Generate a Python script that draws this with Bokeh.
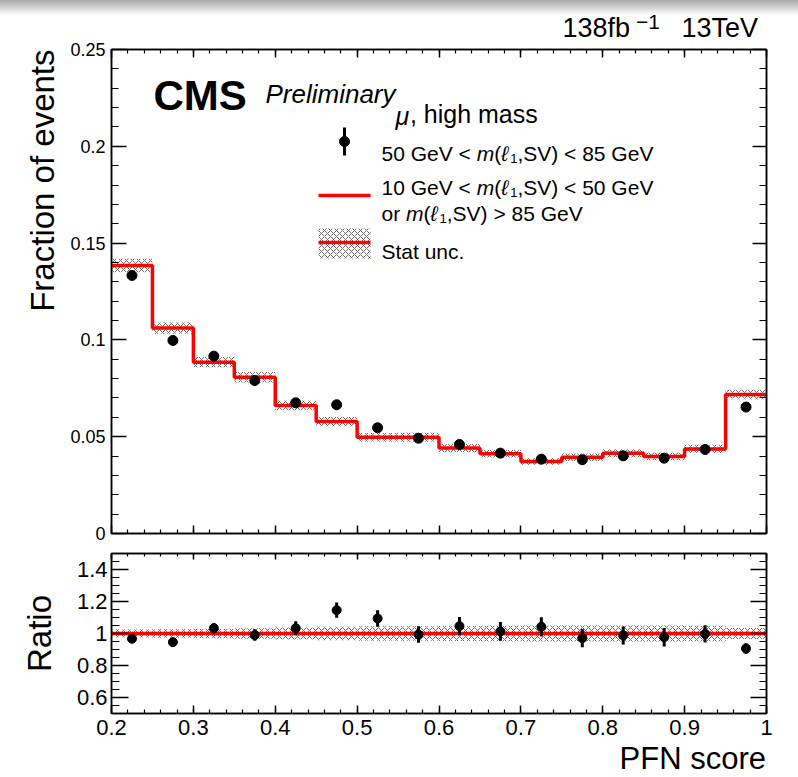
import numpy as np
from bokeh.plotting import figure
from bokeh.layouts import column
from bokeh.models import Label, LinearAxis, FixedTicker, Range1d, Title, Div
from bokeh.embed import file_html
from bokeh.resources import INLINE

# ---------------- data ----------------
bin_edges = [0.2, 0.25, 0.3, 0.35, 0.4, 0.45, 0.5, 0.55, 0.6, 0.65, 0.7, 0.75, 0.8, 0.85, 0.9, 0.95, 1.0]
bin_centers = [0.225, 0.275, 0.325, 0.375, 0.425, 0.475, 0.525, 0.575, 0.625, 0.675, 0.725, 0.775, 0.825, 0.875, 0.925, 0.975]
# 10 GeV < m < 50 GeV or m > 85 GeV (red histogram)
sideband_fraction = [0.1384, 0.1061, 0.0885, 0.0807, 0.0661, 0.0578, 0.0497, 0.0497,
                     0.0441, 0.0412, 0.0372, 0.0394, 0.0415, 0.0398, 0.0437, 0.0718]
sideband_rel_unc = [0.025, 0.027, 0.030, 0.033, 0.037, 0.042, 0.045, 0.046,
                    0.047, 0.048, 0.050, 0.050, 0.050, 0.050, 0.048, 0.035]
# 50 GeV < m < 85 GeV (black points)
signal_fraction = [0.1333, 0.0997, 0.0916, 0.0790, 0.0675, 0.0665, 0.0546, 0.0492,
                   0.0460, 0.0415, 0.0384, 0.0381, 0.0401, 0.0389, 0.0434, 0.0653]
ratio_values = [0.967, 0.946, 1.033, 0.990, 1.033, 1.146, 1.094, 0.994,
                1.046, 1.013, 1.042, 0.971, 0.988, 0.977, 0.998, 0.906]
ratio_errors = [0.025, 0.025, 0.033, 0.036, 0.044, 0.048, 0.052, 0.052,
                0.057, 0.059, 0.060, 0.057, 0.056, 0.058, 0.054, 0.033]

x_ticks = [0.2, 0.3, 0.4, 0.5, 0.6, 0.7, 0.8, 0.9, 1.0]
x_tick_labels = ["0.2", "0.3", "0.4", "0.5", "0.6", "0.7", "0.8", "0.9", "1"]
y_ticks = [0.0, 0.05, 0.1, 0.15, 0.2, 0.25]
y_tick_labels = ["0", "0.05", "0.1", "0.15", "0.2", "0.25"]
r_ticks = [0.6, 0.8, 1.0, 1.2, 1.4]
r_tick_labels = ["0.6", "0.8", "1", "1.2", "1.4"]

FONT = "Liberation Sans"

# ---------------- layout constants (px) ----------------
PAGE_W, PAGE_H = 798, 777
HEADER_H = 38
FL, FR = 111, 766          # frame left / right
MT, MB = 49, 533           # main frame top / bottom
RT, RB = 553, 713          # ratio frame top / bottom
FOOTER_TOP = 748
MAIN_BOTTOM_BORDER = 10
X0, X1 = 0.2, 1.0
Y0, Y1 = 0.0, 0.25
R0, R1 = 0.5, 1.5


def xd(px):
    return X0 + (px - FL) * (X1 - X0) / (FR - FL)


def yd_main(py):
    return Y0 + (MB - py) * (Y1 - Y0) / (MB - MT)


# Arial / Liberation Sans advance widths (em/1000)
W = {' ': 278, '.': 278, ',': 278, '<': 584, '>': 584, '(': 333, ')': 333, 'G': 778, 'e': 556,
     'V': 667, 'm': 833, 'l': 222, 'S': 667, 'o': 556, 'r': 333, 't': 278, 'a': 556, 'u': 556,
     'n': 556, 'c': 500, 'h': 556, 'i': 222, 'g': 556, 's': 500, 'b': 556, 'f': 278, 'T': 611,
     '\u03bc': 576, '\u2212': 584, '\u2113': 430}
for d in "0123456789":
    W[d] = 556


def text_width(s, size):
    return sum(W.get(ch, 556) for ch in s) * size / 1000.0


def add_label(fig, x, y, text, size, style="normal", align="left", baseline="alphabetic", angle=0):
    fig.add_layout(Label(x=x, y=y, text=text, text_font=FONT, text_font_size=f"{size}px",
                         text_font_style=style, text_align=align, text_baseline=baseline,
                         angle=angle, text_color="black"))


def rich(fig, px, py, pieces, xmap, ymap):
    """pieces: list of (text, size, style, dy_px); leading spaces are advanced, not drawn"""
    cur = px
    for text, size, style, dy in pieces:
        lead = len(text) - len(text.lstrip(" "))
        cur += text_width(" " * lead, size)
        body = text.strip(" ")
        add_label(fig, xmap(cur), ymap(py + dy), body, size, style)
        cur += text_width(text.lstrip(" "), size)


def mass_pieces(size):
    sub = round(size * 0.62)
    return [("m", size, "italic", 0), ("(", size, "normal", 0), ("\u2113", size, "italic", 0),
            ("1", sub, "normal", 5), (",SV)", size, "normal", 0)]


def style_axis(ax, major_in, minor_in, size, standoff, show=True):
    ax.major_tick_in = major_in
    ax.major_tick_out = 0
    ax.minor_tick_in = minor_in
    ax.minor_tick_out = 0
    ax.axis_line_color = "black"
    ax.axis_line_width = 1.5
    ax.major_tick_line_color = "black"
    ax.major_tick_line_width = 1.5
    ax.minor_tick_line_color = "black"
    ax.minor_tick_line_width = 1.2
    ax.major_label_text_font = FONT
    ax.major_label_text_color = "black"
    ax.major_label_standoff = standoff
    ax.major_label_text_font_size = f"{size}px" if show else "0px"


def span(text, size, baseline, left=None, right=None, line_h=None):
    """absolutely positioned HTML text whose alphabetic baseline sits at `baseline` px"""
    L = line_h if line_h is not None else size
    top = baseline - ((L - 1.117 * size) / 2 + 0.905 * size)
    pos = f"left:{left}px;" if left is not None else f"right:{right}px;"
    return (f'<span style="position:absolute;{pos}top:{top:.1f}px;font-family:\'{FONT}\';'
            f'font-size:{size}px;line-height:{L}px;color:black;white-space:nowrap;">{text}</span>')


x_minor = list(np.round(np.arange(0.2, 1.0001, 0.02), 3))
y_minor = list(np.round(np.arange(0.0, 0.2501, 0.01), 3))
r_minor = list(np.round(np.arange(0.5, 1.5001, 0.05), 3))

# ---------------- header (lumi text) ----------------
header_html = (
    f'<div style="position:relative;width:{PAGE_W}px;height:{HEADER_H}px;overflow:visible;'
    'background:linear-gradient(to bottom,#a8a8a8 0px,#cfcfcf 7px,#f4f4f4 13px,#ffffff 17px);">'
    + span("138fb", 27, 38, right=PAGE_W - 630, line_h=19)
    + span("\u22121", 21, 29, left=636, line_h=16)
    + span("13TeV", 27, 38, right=PAGE_W - 758, line_h=19)
    + '</div>'
)
header = Div(text=header_html, width=PAGE_W, height=HEADER_H, margin=(0, 0, 0, 0))

# ---------------- main figure ----------------
p = figure(frame_width=FR - FL, frame_height=MB - MT, x_range=Range1d(X0, X1), y_range=Range1d(Y0, Y1),
           output_backend="svg", toolbar_location=None, title=None,
           min_border_left=FL, min_border_right=PAGE_W - FR, min_border_top=MT - HEADER_H,
           min_border_bottom=MAIN_BOTTOM_BORDER)
p.xgrid.visible = False
p.ygrid.visible = False
p.outline_line_color = "black"
p.outline_line_width = 1.5
p.background_fill_color = "white"
p.border_fill_color = "white"

p.xaxis.ticker = FixedTicker(ticks=x_ticks, minor_ticks=x_minor)
p.yaxis.ticker = FixedTicker(ticks=y_ticks, minor_ticks=y_minor)
p.yaxis.major_label_overrides = dict(zip(y_ticks, y_tick_labels))
p.xaxis.major_label_overrides = {t: "" for t in x_ticks}
style_axis(p.xaxis[0], 8, 4, 1, 0, show=False)
style_axis(p.yaxis[0], 15, 7, 18, 6)

ax_top = LinearAxis(ticker=FixedTicker(ticks=x_ticks, minor_ticks=x_minor))
ax_top.major_label_overrides = {t: "" for t in x_ticks}
style_axis(ax_top, 8, 4, 1, 0, show=False)
p.add_layout(ax_top, "above")
ax_right = LinearAxis(ticker=FixedTicker(ticks=y_ticks, minor_ticks=y_minor))
ax_right.major_label_overrides = {t: "" for t in y_ticks}
style_axis(ax_right, 14, 7, 1, 0, show=False)
p.add_layout(ax_right, "right")

p.add_layout(Title(text="Fraction of events", align="right", text_font=FONT, text_font_size="33px",
                   text_font_style="normal", text_color="black", standoff=14), "left")

lo = [v * (1 - u) for v, u in zip(sideband_fraction, sideband_rel_unc)]
hi = [v * (1 + u) for v, u in zip(sideband_fraction, sideband_rel_unc)]
hatch = dict(fill_color=None, line_color=None, hatch_pattern="diagonal_cross",
             hatch_color="#6f6f6f", hatch_scale=6, hatch_weight=1.0)
p.quad(left=bin_edges[:-1], right=bin_edges[1:], bottom=lo, top=hi, **hatch)
p.step(x=bin_edges, y=sideband_fraction + [sideband_fraction[-1]], mode="after",
       line_color="red", line_width=3.5)
p.scatter(x=bin_centers, y=signal_fraction, size=10, color="black")

# legend (manual, ROOT style)
lx0, lx1 = 318, 370
p.segment(x0=[xd(344)], y0=[yd_main(127)], x1=[xd(344)], y1=[yd_main(155)], line_color="black", line_width=3)
p.scatter(x=[xd(344)], y=[yd_main(141)], size=10, color="black")
p.segment(x0=[xd(lx0)], y0=[yd_main(195)], x1=[xd(lx1)], y1=[yd_main(195)], line_color="red", line_width=3.5)
p.quad(left=[xd(lx0)], right=[xd(lx1)], bottom=[yd_main(258)], top=[yd_main(228)], **hatch)
p.segment(x0=[xd(lx0)], y0=[yd_main(242)], x1=[xd(lx1)], y1=[yd_main(242)], line_color="red", line_width=3.5)

LS = 21
rich(p, 381, 153, [("50 GeV < ", LS, "normal", 0)] + mass_pieces(LS) + [(" < 85 GeV", LS, "normal", 0)], xd, yd_main)
rich(p, 381, 187, [("10 GeV < ", LS, "normal", 0)] + mass_pieces(LS) + [(" < 50 GeV", LS, "normal", 0)], xd, yd_main)
rich(p, 381, 213, [("or ", LS, "normal", 0)] + mass_pieces(LS) + [(" > 85 GeV", LS, "normal", 0)], xd, yd_main)
add_label(p, xd(381), yd_main(251), "Stat unc.", LS)

# CMS labels
add_label(p, xd(153), yd_main(95), "CMS", 42, "bold")
add_label(p, xd(265), yd_main(93), "Preliminary", 26, "italic")
rich(p, 395, 113, [("\u03bc", 25, "italic", 2), (", high mass", 25, "normal", 0)], xd, yd_main)

# ---------------- ratio figure ----------------
main_bottom = MB + MAIN_BOTTOM_BORDER
r = figure(frame_width=FR - FL, frame_height=RB - RT, x_range=p.x_range, y_range=Range1d(R0, R1),
           output_backend="svg", toolbar_location=None, title=None,
           min_border_left=FL, min_border_right=PAGE_W - FR, min_border_top=RT - main_bottom,
           min_border_bottom=FOOTER_TOP - RB)
r.xgrid.visible = False
r.ygrid.visible = False
r.outline_line_color = "black"
r.outline_line_width = 1.5
r.background_fill_color = "white"
r.border_fill_color = "white"

r.xaxis.ticker = FixedTicker(ticks=x_ticks, minor_ticks=x_minor)
r.xaxis.major_label_overrides = dict(zip(x_ticks, x_tick_labels))
r.yaxis.ticker = FixedTicker(ticks=r_ticks, minor_ticks=r_minor)
r.yaxis.major_label_overrides = dict(zip(r_ticks, r_tick_labels))
style_axis(r.xaxis[0], 8, 4, 22, 6)
style_axis(r.yaxis[0], 17, 8, 22, 4)
r.yaxis.axis_label = "Ratio"
r.yaxis.axis_label_text_font = FONT
r.yaxis.axis_label_text_font_size = "33px"
r.yaxis.axis_label_text_font_style = "normal"
r.yaxis.axis_label_text_color = "black"
r.yaxis.axis_label_standoff = 16

rax_top = LinearAxis(ticker=FixedTicker(ticks=x_ticks, minor_ticks=x_minor))
rax_top.major_label_overrides = {t: "" for t in x_ticks}
style_axis(rax_top, 6, 3, 1, 0, show=False)
r.add_layout(rax_top, "above")
rax_right = LinearAxis(ticker=FixedTicker(ticks=r_ticks, minor_ticks=r_minor))
rax_right.major_label_overrides = {t: "" for t in r_ticks}
style_axis(rax_right, 16, 7, 1, 0, show=False)
r.add_layout(rax_right, "right")

sideband_ratio = [v / v for v in sideband_fraction]
r.quad(left=bin_edges[:-1], right=bin_edges[1:],
       bottom=[1 - u for u in sideband_rel_unc], top=[1 + u for u in sideband_rel_unc], **hatch)
r.step(x=bin_edges, y=sideband_ratio + [sideband_ratio[-1]], mode="after", line_color="red", line_width=3.5)
r.segment(x0=bin_centers, x1=bin_centers,
          y0=[v - e for v, e in zip(ratio_values, ratio_errors)],
          y1=[v + e for v, e in zip(ratio_values, ratio_errors)], line_color="black", line_width=3)
r.scatter(x=bin_centers, y=ratio_values, size=9, color="black")

# ---------------- footer (x axis title) ----------------
FOOTER_H = PAGE_H - FOOTER_TOP
footer_html = (
    f'<div style="position:relative;width:{PAGE_W}px;height:{FOOTER_H}px;overflow:visible;background:white;">'
    + span("PFN score", 31, 770 - FOOTER_TOP, right=PAGE_W - 766, line_h=24)
    + '</div>'
)
footer = Div(text=footer_html, width=PAGE_W, height=FOOTER_H, margin=(0, 0, 0, 0))

layout = column(header, p, r, footer, spacing=0)
open("out.html", "w").write(file_html(layout, INLINE))
